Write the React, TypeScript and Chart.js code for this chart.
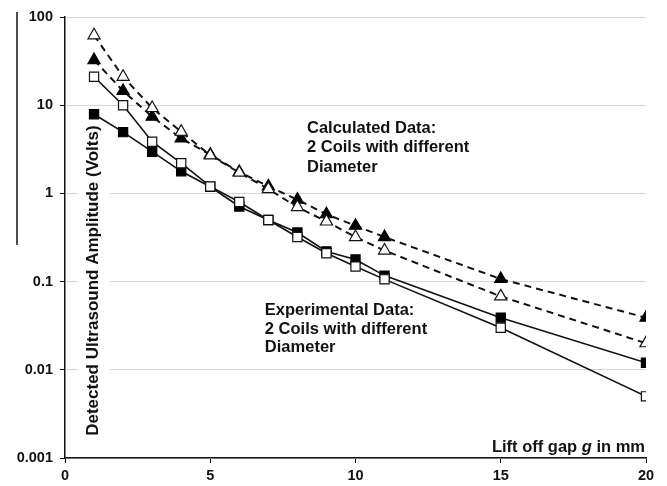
import React, { useEffect, useRef } from "react";
import { Chart, registerables } from "chart.js";

Chart.register(...registerables);

// ---- data ----
const gapMm = [1, 2, 3, 4, 5, 6, 7, 8, 9, 10, 11, 15, 20];
const calcOpenTri = [62, 21, 9.3, 5.0, 2.7, 1.72, 1.12, 0.7, 0.48, 0.32, 0.225, 0.068, 0.02];
const calcFilledTri = [32.5, 14.5, 7.4, 4.2, 2.75, 1.75, 1.2, 0.85, 0.58, 0.43, 0.32, 0.107, 0.039];
const expOpenSq = [21, 10, 3.85, 2.2, 1.2, 0.8, 0.5, 0.32, 0.21, 0.148, 0.106, 0.03, 0.005];
const expFilledSq = [7.9, 4.95, 2.97, 1.78, 1.19, 0.71, 0.5, 0.36, 0.22, 0.178, 0.117, 0.039, 0.012];

const yTicks = [0.001, 0.01, 0.1, 1, 10, 100];
const yTickLabels = ["0.001", "0.01", "0.1", "1", "10", "100"];
const xTicks = [0, 5, 10, 15, 20];

const yTitle = "Detected Ultrasound Amplitude (Volts)";
const xTitleParts = ["Lift off gap ", "g", " in mm"];
const calcNote = ["Calculated Data:", "2 Coils with different", "Diameter"];
const expNote = ["Experimental Data:", "2 Coils with different", "Diameter"];

const FONT = "'Liberation Sans', Arial, Helvetica, sans-serif";
const INK = "#111";

const toPts = (ys: number[]) => gapMm.map((x, i) => ({ x, y: ys[i] }));

const overlay = {
  id: "overlay",
  beforeDatasetsDraw(chart: any) {
    const ctx = chart.ctx;
    const ys = chart.scales.y;
    const xs = chart.scales.x;
    ctx.save();
    // y title with white background inside plot
    const cx = xs.getPixelForValue(0.96);
    const cy = ys.getPixelForValue(0.1) - 1;
    ctx.font = `bold 17px ${FONT}`;
    const w = ctx.measureText(yTitle).width;
    ctx.fillStyle = "#fff";
    ctx.fillRect(cx - 15, cy - w / 2 - 6, 32, w + 12);
    ctx.translate(cx, cy);
    ctx.rotate(-Math.PI / 2);
    ctx.fillStyle = INK;
    ctx.textAlign = "center";
    ctx.textBaseline = "middle";
    ctx.fillText(yTitle, 0, 0);
    ctx.restore();
  },
  afterDraw(chart: any) {
    const ctx = chart.ctx;
    const xs = chart.scales.x;
    const ys = chart.scales.y;
    ctx.save();
    ctx.fillStyle = INK;
    ctx.textBaseline = "alphabetic";
    ctx.textAlign = "left";
    ctx.font = `bold 16.5px ${FONT}`;
    // annotations
    const cX = xs.getPixelForValue(8.33);
    const cY = ys.getPixelForValue(4.84);
    calcNote.forEach((t, i) => ctx.fillText(t, cX, cY + i * 19.5));
    const eX = xs.getPixelForValue(6.88);
    const eY = ys.getPixelForValue(0.0418);
    expNote.forEach((t, i) => ctx.fillText(t, eX, eY + i * 18.5));
    // x title (right aligned)
    const right = xs.getPixelForValue(20) - 1;
    const base = ys.getPixelForValue(0.001) - 6;
    const fonts = [`bold 16.5px ${FONT}`, `italic bold 16.5px ${FONT}`, `bold 16.5px ${FONT}`];
    const widths = xTitleParts.map((p, i) => {
      ctx.font = fonts[i];
      return ctx.measureText(p).width;
    });
    let x = right - widths.reduce((a, b) => a + b, 0);
    xTitleParts.forEach((p, i) => {
      ctx.font = fonts[i];
      ctx.fillText(p, x, base);
      x += widths[i];
    });
    // stray vertical rule at far left
    ctx.strokeStyle = "#111";
    ctx.lineWidth = 1.5;
    ctx.beginPath();
    ctx.moveTo(17, 12);
    ctx.lineTo(17, 245);
    ctx.stroke();
    ctx.restore();
  },
};

export default function App() {
  const ref = useRef<HTMLCanvasElement | null>(null);
  useEffect(() => {
    if (!ref.current) return;
    const tickFont = { family: FONT, size: 14.5, weight: "bold" as const };
    const chart = new Chart(ref.current, {
      type: "line",
      data: {
        datasets: [
          {
            data: toPts(calcOpenTri),
            borderColor: "#111",
            borderWidth: 2,
            borderDash: [7, 5],
            pointStyle: "triangle",
            pointRadius: 7,
            pointBackgroundColor: "#fff",
            pointBorderColor: "#111",
            pointBorderWidth: 1.2,
            fill: false,
            tension: 0,
          },
          {
            data: toPts(calcFilledTri),
            borderColor: "#111",
            borderWidth: 2,
            borderDash: [7, 5],
            pointStyle: "triangle",
            pointRadius: 7,
            pointBackgroundColor: "#000",
            pointBorderColor: "#000",
            pointBorderWidth: 1.2,
            fill: false,
            tension: 0,
          },
          {
            data: toPts(expOpenSq),
            borderColor: "#111",
            borderWidth: 1.6,
            pointStyle: "rect",
            pointRadius: 6.5,
            pointBackgroundColor: "#fff",
            pointBorderColor: "#111",
            pointBorderWidth: 1.2,
            fill: false,
            tension: 0,
          },
          {
            data: toPts(expFilledSq),
            borderColor: "#111",
            borderWidth: 1.6,
            pointStyle: "rect",
            pointRadius: 6.5,
            pointBackgroundColor: "#000",
            pointBorderColor: "#000",
            pointBorderWidth: 1.2,
            fill: false,
            tension: 0,
          },
        ],
      },
      options: {
        animation: false,
        responsive: false,
        maintainAspectRatio: false,
        layout: { padding: { left: 0, top: 17, right: 21, bottom: 0 } },
        plugins: { legend: { display: false }, tooltip: { enabled: false } },
        scales: {
          x: {
            type: "linear",
            min: 0,
            max: 20,
            afterBuildTicks: (s: any) => {
              s.ticks = xTicks.map((v) => ({ value: v }));
            },
            afterFit: (s: any) => {
              s.height = 28;
            },
            ticks: { font: tickFont, color: INK, padding: 4, autoSkip: false, maxRotation: 0 },
            grid: { drawOnChartArea: false, drawTicks: true, tickLength: 5, tickColor: "#111" },
            border: { color: "#111", width: 1.5 },
          },
          y: {
            type: "logarithmic",
            min: 0.001,
            max: 100,
            afterBuildTicks: (s: any) => {
              s.ticks = yTicks.map((v) => ({ value: v }));
            },
            afterFit: (s: any) => {
              s.width = 65;
            },
            ticks: {
              font: tickFont,
              color: INK,
              padding: 7,
              autoSkip: false,
              callback: (v: any) => {
                const i = yTicks.indexOf(Number(v));
                return i >= 0 ? yTickLabels[i] : "";
              },
            },
            grid: { color: "#d4d4d4", lineWidth: 1, tickLength: 5, tickColor: "#111" },
            border: { color: "#111", width: 1.5 },
          },
        },
      },
      plugins: [overlay],
    });
    return () => chart.destroy();
  }, []);
  return (
    <div style={{ position: "absolute", left: 0, top: 0, width: 667, height: 486, background: "#fff" }}>
      <canvas ref={ref} width={667} height={486} style={{ width: 667, height: 486, display: "block" }} />
    </div>
  );
}
